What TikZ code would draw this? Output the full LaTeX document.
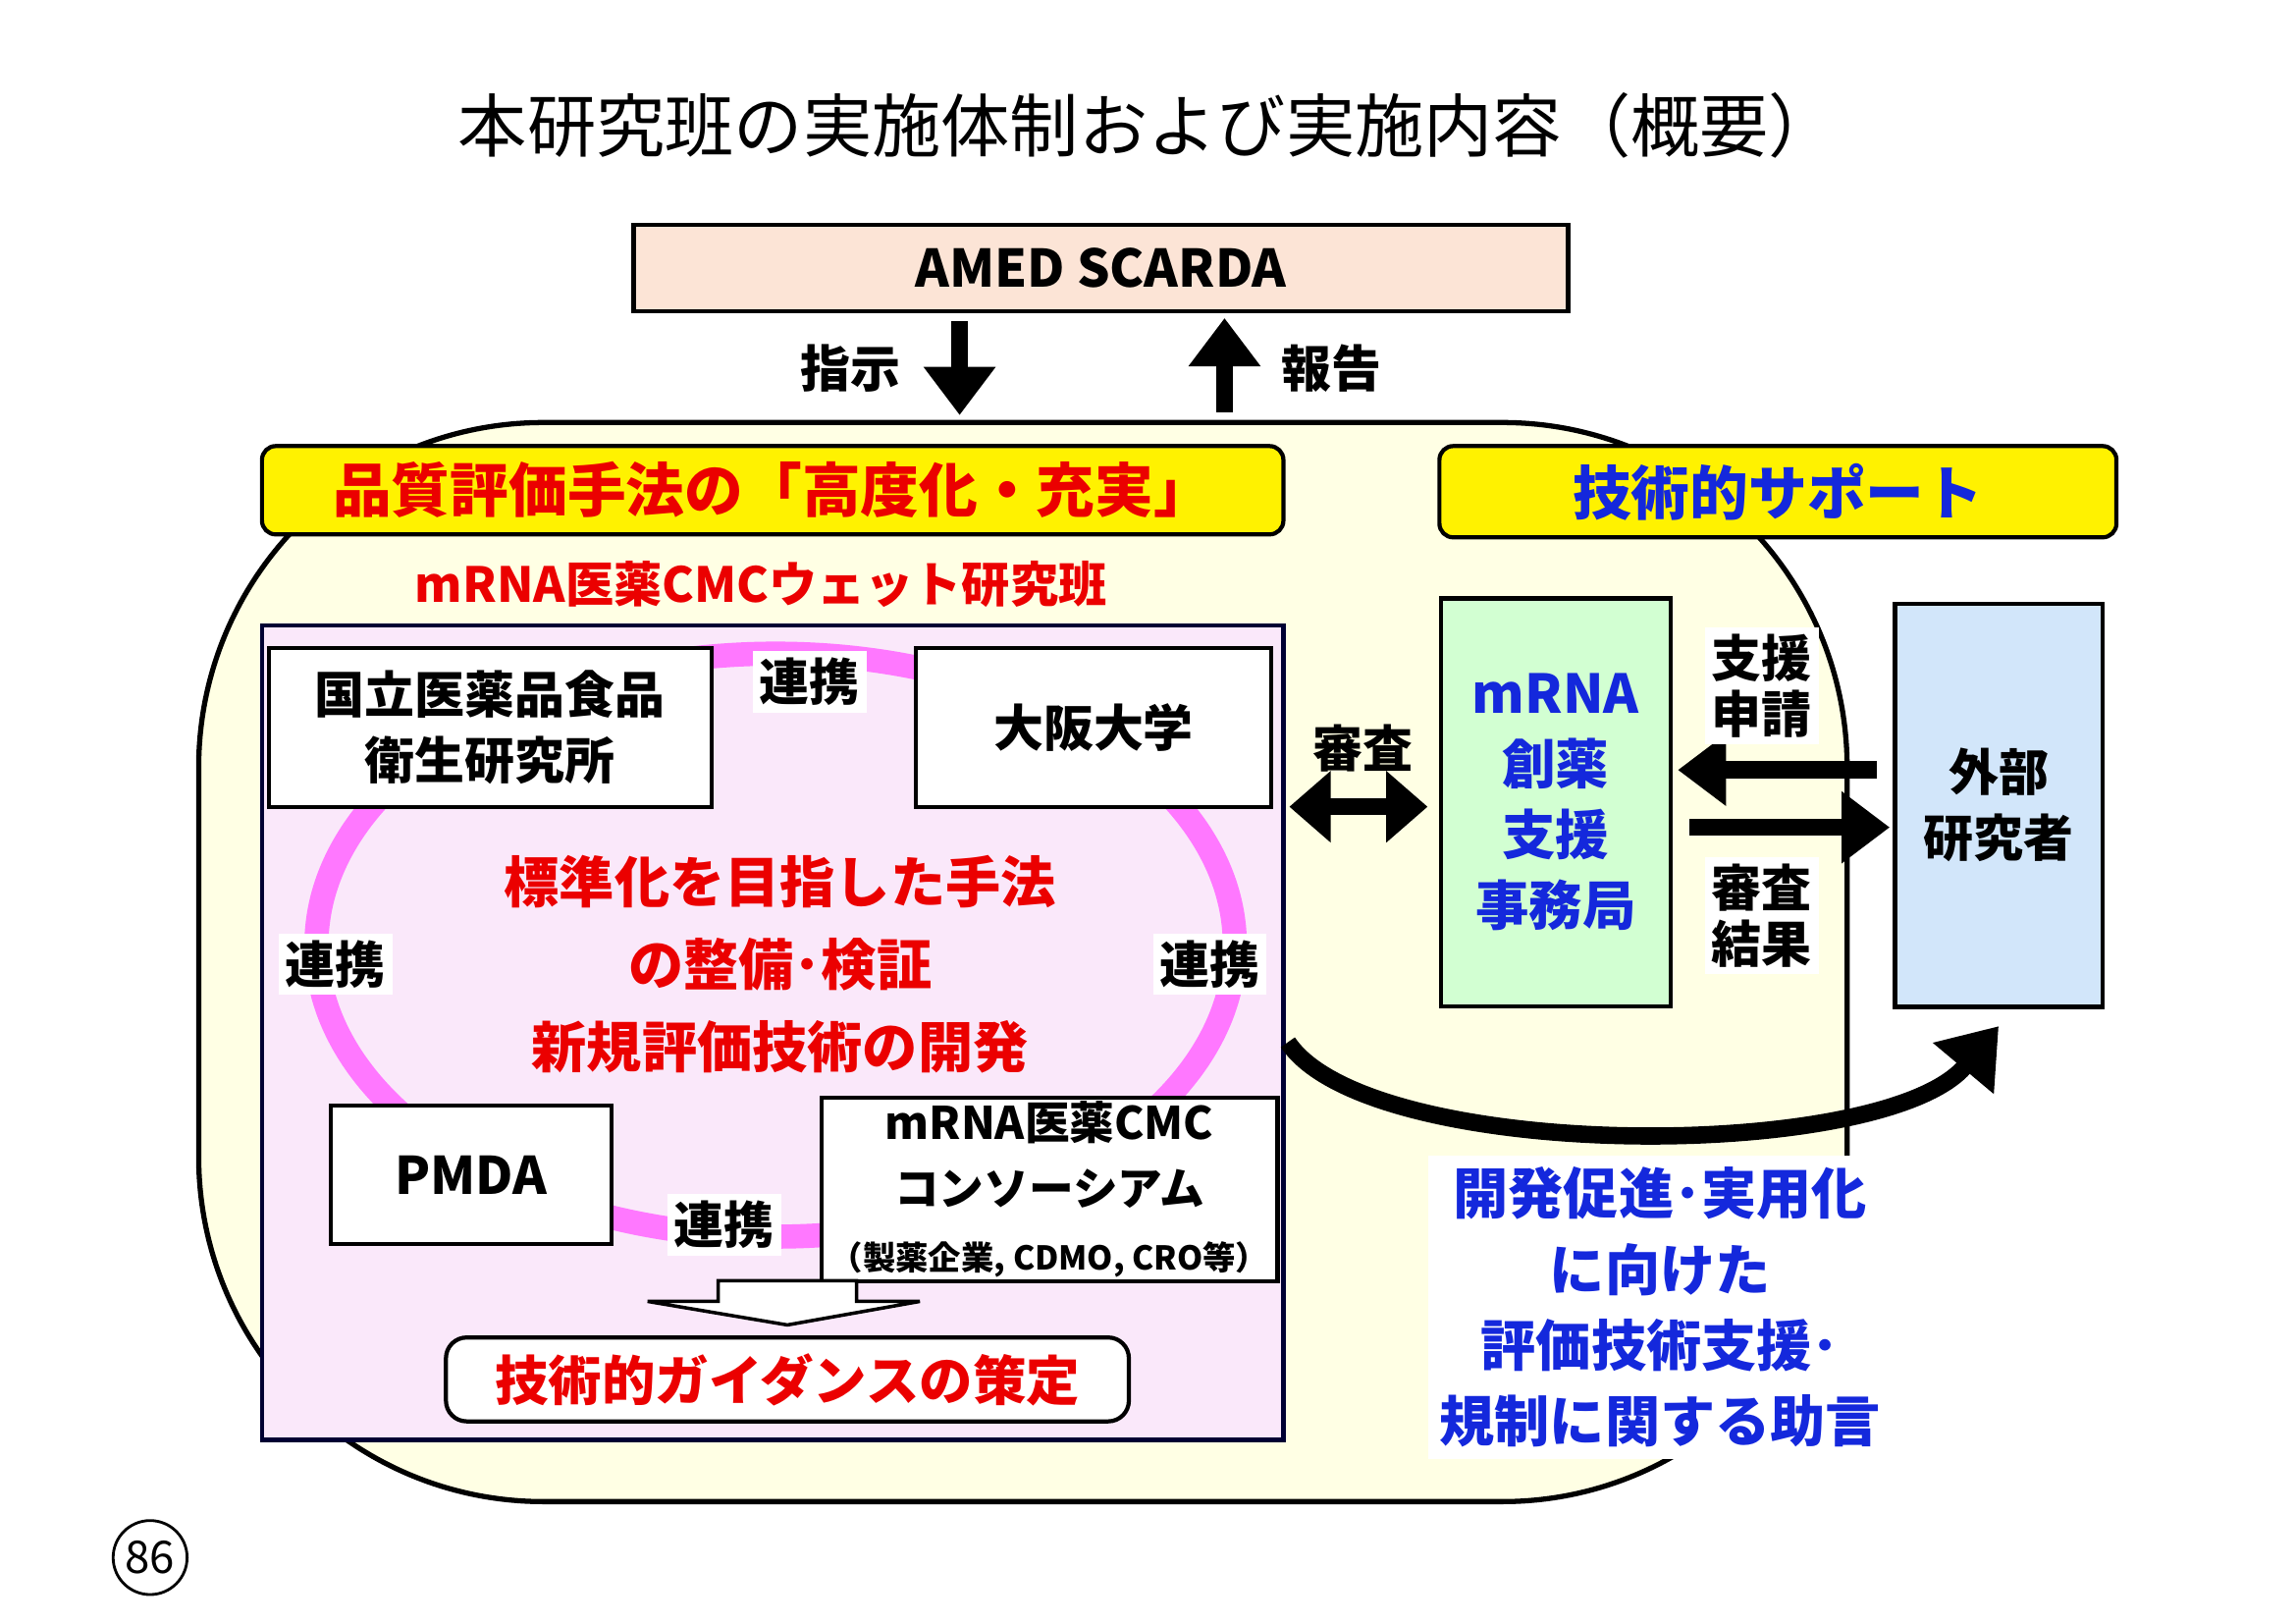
\documentclass[tikz,border=0pt]{standalone}
\usepackage{fontspec}
\setmainfont{Noto Sans CJK JP}
\usetikzlibrary{arrows.meta,positioning,shapes.geometric}
\definecolor{peach}{RGB}{252,228,214}
\definecolor{paleyel}{RGB}{255,255,228}
\definecolor{pinkbg}{RGB}{250,232,250}
\definecolor{pinkring}{RGB}{255,120,255}
\definecolor{greenbg}{RGB}{210,255,210}
\definecolor{bluebg}{RGB}{210,230,250}
\definecolor{txtblue}{RGB}{20,40,220}
\definecolor{txtred}{RGB}{235,0,0}
\tikzset{
  box/.style={draw,line width=1.2pt,fill=white,align=center,font=\fontsize{14.5}{19}\selectfont\bfseries},
  head/.style={draw,line width=1.2pt,fill=yellow,rounded corners=4pt,font=\fontsize{17}{20}\selectfont\bfseries},
  link/.style={fill=white,inner sep=2pt,font=\fontsize{14.5}{17}\selectfont\bfseries},
  lab/.style={align=center,inner sep=2pt,font=\fontsize{14.5}{16}\selectfont\bfseries},
  fat/.style={line width=5pt,-{Triangle[length=14pt,width=20pt]}},
}
\begin{document}
\begin{tikzpicture}[x=0.015cm,y=-0.015cm]
  \useasboundingbox (0,0) rectangle (1560,1102);
  \node (title) at (780,85) {\fontsize{20}{24}\selectfont 本研究班の実施体制および実施内容（概要）};
  \node[draw,line width=1.2pt,fill=peach,minimum width=635*0.015cm,minimum height=59*0.015cm,font=\fontsize{15}{18}\selectfont\bfseries] (amed) at (748,182) {AMED SCARDA};
  \coordinate (dn1) at (652,218); \coordinate (dn2) at (652,282);
  \coordinate (up1) at (832,280); \coordinate (up2) at (832,216);
  \draw[fat] (dn1) -- (dn2);
  \draw[fat] (up1) -- (up2);
  \node[lab] (shiji) at (578,250) {指示};
  \node[lab] (hokoku) at (905,250) {報告};
  % outer field
  \draw[line width=1.5pt,fill=paleyel,rounded corners=100] (135,287) rectangle (1255,1020);
  \node[head,minimum width=694*0.015cm,minimum height=60*0.015cm,text=txtred] (h1) at (525,333) {品質評価手法の「高度化・充実」};
  \node[head,minimum width=460*0.015cm,minimum height=62*0.015cm,text=txtblue] (h2) at (1208,334) {技術的サポート};
  \node[text=txtred,font=\fontsize{14}{17}\selectfont\bfseries] (wet) at (517,397) {mRNA医薬CMCウェット研究班};
  \draw[line width=1.2pt,draw=black!80!blue,fill=pinkbg] (178,425) rectangle (872,978);
  \draw[line width=7pt,pinkring] (527,642) ellipse [x radius=312,y radius=198];
  \node[box,minimum width=301*0.015cm,minimum height=108*0.015cm] (nihs) at (333,494) {国立医薬品食品\\衛生研究所};
  \node[box,minimum width=241*0.015cm,minimum height=108*0.015cm] (osaka) at (743,494) {大阪大学};
  \node[box,minimum width=191*0.015cm,minimum height=94*0.015cm,font=\fontsize{15}{18}\selectfont\bfseries] (pmda) at (320,798) {PMDA};
  \node[box,minimum width=310*0.015cm,minimum height=115*0.015cm,inner sep=1pt] (cons) at (713,808)
    {\fontsize{13}{16}\selectfont mRNA医薬CMC\\\fontsize{13}{16}\selectfont コンソーシアム\\\fontsize{9.5}{12}\selectfont （製薬企業, CDMO, CRO等）};
  \node[link] (l1) at (550,463) {連携};
  \node[link] (l2) at (228,655) {連携};
  \node[link] (l3) at (822,655) {連携};
  \node[link] (l4) at (492,832) {連携};
  \node[text=txtred,lab,font=\fontsize{16}{24}\selectfont\bfseries] (goal) at (530,655) {標準化を目指した手法\\の整備･検証\\新規評価技術の開発};
  \draw[line width=1pt,fill=white] (488,870) -- (582,870) -- (582,884) -- (625,884) -- (535,900) -- (440,884) -- (488,884) -- cycle;
  \node[draw,line width=1.2pt,fill=white,rounded corners=6pt,minimum width=464*0.015cm,minimum height=57*0.015cm,text=txtred,font=\fontsize{15.5}{18}\selectfont\bfseries] (guide) at (535,937) {技術的ガイダンスの策定};
  % support side
  \node[lab] (shinsa) at (926,508) {審査};
  \coordinate (da1) at (876,548); \coordinate (da2) at (970,548);
  \draw[line width=5pt,{Triangle[length=12pt,width=20pt]}-{Triangle[length=12pt,width=20pt]}] (da1) -- (da2);
  \node[box,fill=greenbg,minimum width=156*0.015cm,minimum height=277*0.015cm,text=txtblue,font=\fontsize{15.5}{20.5}\selectfont\bfseries] (office) at (1057,545) {mRNA\\創薬\\支援\\事務局};
  \node[box,fill=bluebg,minimum width=141*0.015cm,minimum height=274*0.015cm] (ext) at (1358,547) {外部\\研究者};
  \coordinate (a1) at (1275,523); \coordinate (a2) at (1140,523);
  \coordinate (b1) at (1148,562); \coordinate (b2) at (1284,562);
  \draw[fat] (a1) -- (a2);
  \draw[fat] (b1) -- (b2);
  \node[lab,fill=white] (req) at (1197,466) {支援\\申請};
  \node[lab,fill=white] (res) at (1197,622) {審査\\結果};
  \coordinate (c1) at (875,708); \coordinate (c2) at (1358,697);
  \draw[line width=5pt,-{Triangle[length=16pt,width=22pt]}] (c1) .. controls (930,790) and (1280,790) .. (c2);
  \node[fill=white,align=center,text=txtblue,font=\fontsize{16}{22}\selectfont\bfseries] (adv) at (1128,888) {開発促進･実用化\\に向けた\\評価技術支援･\\規制に関する助言};
  \node[draw,circle,line width=0.8pt,inner sep=1.5pt,font=\fontsize{13}{14}\selectfont] (pg) at (102,1058) {86};
\end{tikzpicture}
\end{document}
